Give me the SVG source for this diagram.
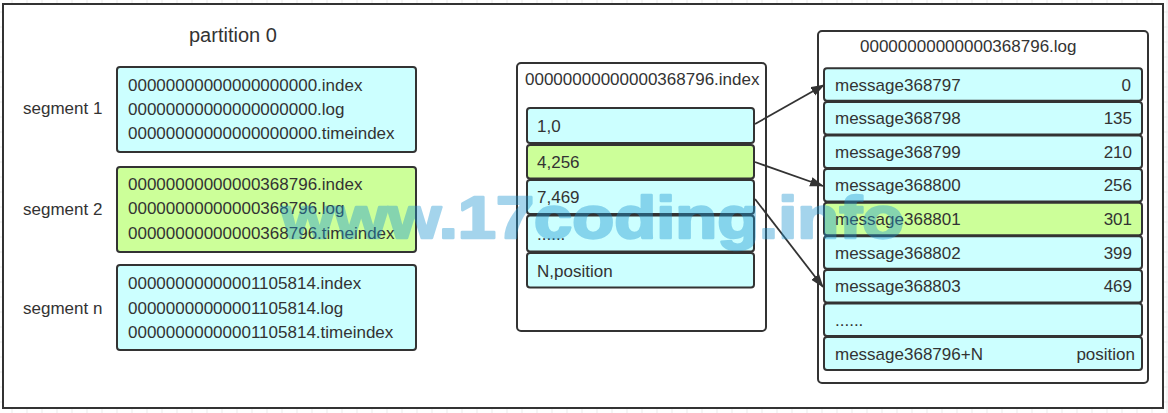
<svg xmlns="http://www.w3.org/2000/svg" width="1168" height="413" viewBox="0 0 1168 413">
<style>
.t{font-family:"Liberation Sans",Arial,sans-serif;font-size:17px;fill:#333}
.cy{fill:#CCFFFF;stroke:#333;stroke-width:2}
.gr{fill:#CCFF99;stroke:#333;stroke-width:2}
.box{fill:#fff;stroke:#333;stroke-width:2}
.c{stroke:#333;stroke-width:1.8;fill:none;marker-end:url(#ah)}
.e{text-anchor:end}
</style>
<defs>
<pattern id="grid" width="15" height="15" patternUnits="userSpaceOnUse" x="11.5" y="11.5">
<path d="M0.5 0V15M0 0.5H15" stroke="#ebebeb" stroke-width="1" fill="none"/>
</pattern>
<marker id="ah" markerUnits="userSpaceOnUse" markerWidth="14" markerHeight="10" refX="12" refY="4.5" orient="auto" viewBox="0 0 13 9">
<path d="M0,0 L13,4.5 L0,9 z" fill="#333"/>
</marker>
</defs>
<rect x="0" y="0" width="1168" height="413" fill="#fff"/>
<rect x="0" y="0" width="1168" height="413" fill="url(#grid)"/>
<rect x="3" y="4" width="1160" height="404" fill="#fff" stroke="#333" stroke-width="2"/>
<text class="t" x="189" y="42" style="font-size:20px">partition 0</text>
<g id="segment1">
<text class="t" x="23" y="114">segment 1</text>
<rect class="cy" x="117" y="67" width="299" height="85" rx="3"/>
<text class="t" x="128" y="91">00000000000000000000.index</text>
<text class="t" x="128" y="115">00000000000000000000.log</text>
<text class="t" x="128" y="139">00000000000000000000.timeindex</text>
</g>
<g id="segment2">
<text class="t" x="23" y="215">segment 2</text>
<rect class="gr" x="117" y="167" width="299" height="85" rx="3"/>
<text class="t" x="128" y="189.5">00000000000000368796.index</text>
<text class="t" x="128" y="214">00000000000000368796.log</text>
<text class="t" x="128" y="238.5">00000000000000368796.timeindex</text>
</g>
<g id="segmentn">
<text class="t" x="23" y="314">segment n</text>
<rect class="cy" x="117" y="265" width="299" height="85" rx="3"/>
<text class="t" x="128" y="289">00000000000001105814.index</text>
<text class="t" x="128" y="314">00000000000001105814.log</text>
<text class="t" x="128" y="338">00000000000001105814.timeindex</text>
</g>
<g id="indexfile">
<rect class="box" x="517" y="63" width="249" height="268" rx="4"/>
<text class="t" x="525" y="85">00000000000000368796.index</text>
<rect class="cy" x="527" y="108" width="227" height="35" rx="3"/>
<text class="t" x="537" y="131.5">1,0</text>
<rect class="gr" x="527" y="145" width="227" height="33.5" rx="3"/>
<text class="t" x="537" y="168">4,256</text>
<rect class="cy" x="527" y="180" width="227" height="34" rx="3"/>
<text class="t" x="537" y="203">7,469</text>
<rect class="cy" x="527" y="215.5" width="227" height="36" rx="3"/>
<text class="t" x="537" y="240">......</text>
<rect class="cy" x="527" y="253" width="227" height="34.5" rx="3"/>
<text class="t" x="537" y="276.5">N,position</text>
</g>
<g id="logfile">
<rect class="box" x="818" y="31" width="330" height="352" rx="4"/>
<text class="t" x="860" y="52">00000000000000368796.log</text>
<rect class="cy" x="824" y="68.3" width="318" height="32.5" rx="3"/>
<text class="t" x="835" y="90.5">message368797</text><text class="t e" x="1131" y="90.5">0</text>
<rect class="cy" x="824" y="101.9" width="318" height="32.5" rx="3"/>
<text class="t" x="835" y="124">message368798</text><text class="t e" x="1132" y="124">135</text>
<rect class="cy" x="824" y="135.5" width="318" height="32.5" rx="3"/>
<text class="t" x="835" y="157.6">message368799</text><text class="t e" x="1132" y="157.6">210</text>
<rect class="cy" x="824" y="169.1" width="318" height="32.5" rx="3"/>
<text class="t" x="835" y="191.2">message368800</text><text class="t e" x="1132" y="191.2">256</text>
<rect class="gr" x="824" y="202.7" width="318" height="32.5" rx="3"/>
<text class="t" x="835" y="224.9">message368801</text><text class="t e" x="1132" y="224.9">301</text>
<rect class="cy" x="824" y="236.3" width="318" height="32.5" rx="3"/>
<text class="t" x="835" y="258.5">message368802</text><text class="t e" x="1132" y="258.5">399</text>
<rect class="cy" x="824" y="269.9" width="318" height="32.5" rx="3"/>
<text class="t" x="835" y="292">message368803</text><text class="t e" x="1132" y="292">469</text>
<rect class="cy" x="824" y="303.5" width="318" height="32.5" rx="3"/>
<text class="t" x="835" y="325.7">......</text>
<rect class="cy" x="824" y="337.1" width="318" height="33" rx="3"/>
<text class="t" x="835" y="359.5">message368796+N</text><text class="t e" x="1135" y="359.5">position</text>
</g>
<g id="connectors">
<line class="c" x1="755" y1="124" x2="824" y2="85"/>
<line class="c" x1="755" y1="162" x2="823" y2="186"/>
<line class="c" x1="755" y1="199" x2="823" y2="287"/>
</g>
<text x="281" y="238" textLength="623" lengthAdjust="spacingAndGlyphs" style="font-family:'Liberation Sans',Arial,sans-serif;font-weight:bold;font-size:60px;fill:rgb(30,150,210);stroke:rgb(30,150,210);stroke-width:2.5;stroke-linejoin:round;opacity:0.4">www.17coding.info</text>
</svg>
